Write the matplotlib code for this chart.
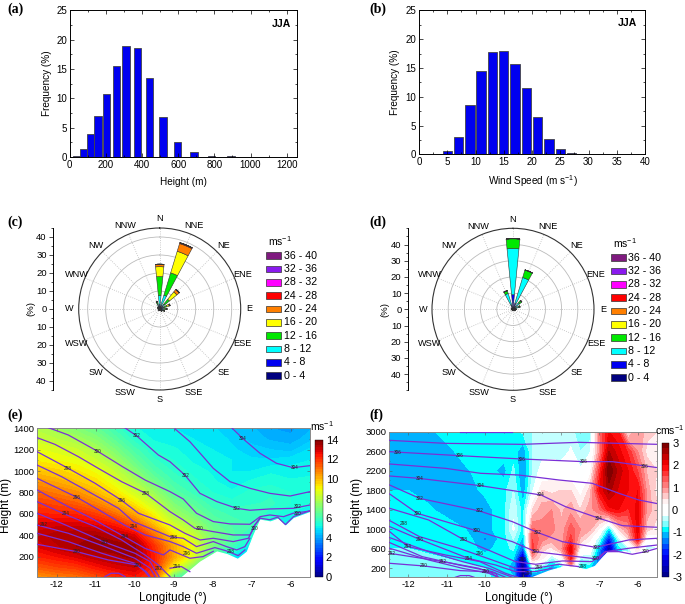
import numpy as np
import matplotlib
matplotlib.use("Agg")
import matplotlib.pyplot as plt
from matplotlib.colors import LinearSegmentedColormap
from matplotlib.patches import Rectangle
from matplotlib.ticker import MultipleLocator

plt.rcParams['font.family'] = ['Liberation Sans', 'DejaVu Sans']
plt.rcParams['mathtext.default'] = 'regular'
plt.rcParams['axes.unicode_minus'] = False
plt.rcParams['axes.linewidth'] = 0.7

W, H = 685, 604

# (a) height histogram
a_x = [39, 76, 116, 157, 203, 258, 312, 374, 442, 516, 597, 688, 785, 892, 1045]
a_y = [0.1, 1.4, 4.0, 7.0, 10.7, 15.5, 19.0, 18.5, 13.4, 6.8, 2.5, 0.8, 0.25, 0.1, 0.05]
# (b) wind speed histogram
b_x = [3, 5, 7, 9, 11, 13, 15, 17, 19, 21, 23, 25, 27, 29, 31, 33]
b_y = [0.05, 0.6, 3.0, 8.6, 14.5, 17.7, 18.0, 15.7, 11.5, 6.4, 2.7, 0.9, 0.3, 0.1, 0.03, 0.02]

# wind roses, share per speed class, 16 directions clockwise from N
directions = ["N", "NNE", "NE", "ENE", "E", "ESE", "SE", "SSE", "S", "SSW", "SW", "WSW", "W", "WNW", "NW", "NNW"]
speed_names = ["0 - 4", "4 - 8", "8 - 12", "12 - 16", "16 - 20", "20 - 24", "24 - 28", "28 - 32", "32 - 36", "36 - 40"]
speed_colors = ["#00007f", "#0000f0", "#00ffff", "#00e800", "#ffff00", "#ff7f00", "#ff0000", "#ff00ff", "#8a1aee", "#7f1a7f"]
c_0_4 = [1.5, 1.3, 1.3, 1.3, 1.3, 1.2, 1.0, 0.9, 0.8, 0.8, 0.8, 0.8, 0.8, 0.9, 1.0, 1.2]
c_4_8 = [1.0, 0.7, 0.7, 0.5, 0.4, 0.4, 0.3, 0.1, 0, 0, 0, 0, 0, 0.1, 0.2, 0.5]
c_8_12 = [5.0, 6.0, 1.5, 0.8, 0.7, 0.5, 0.2, 0, 0, 0, 0, 0, 0, 0, 0.2, 1.3]
c_12_16 = [10.5, 13.0, 3.5, 1.5, 1.0, 0.5, 0.1, 0, 0, 0, 0, 0, 0, 0, 0, 1.0]
c_16_20 = [5.5, 12.5, 5.3, 1.4, 0.5, 0.2, 0, 0, 0, 0, 0, 0, 0, 0, 0, 0.3]
c_20_24 = [1.3, 4.5, 1.7, 0.5, 0.1, 0, 0, 0, 0, 0, 0, 0, 0, 0, 0, 0]
c_24_28 = [0.1, 0.5, 0.2, 0, 0, 0, 0, 0, 0, 0, 0, 0, 0, 0, 0, 0]
d_0_4 = [2.0, 1.5, 1.2, 1.2, 1.2, 1.0, 0.8, 0.7, 0.7, 0.7, 0.7, 0.7, 0.7, 0.8, 0.8, 1.2]
d_4_8 = [7.0, 2.5, 1.0, 0.8, 0.3, 0.2, 0.1, 0, 0, 0, 0, 0, 0, 0, 0.1, 1.5]
d_8_12 = [28.5, 16.5, 3.0, 1.5, 0.4, 0.2, 0, 0, 0, 0, 0, 0, 0, 0, 0.1, 7.5]
d_12_16 = [6.0, 4.8, 1.8, 1.0, 0.1, 0, 0, 0, 0, 0, 0, 0, 0, 0, 0, 1.8]
d_16_20 = [0.1, 0.1, 0.1, 0, 0, 0, 0, 0, 0, 0, 0, 0, 0, 0, 0, 0]

# terrain along the section, same for (e) and (f)
ground_lon = [-8.79, -8.32, -7.89, -7.63, -7.36, -7.12, -6.95, -6.78, -6.52, -6.33, -6.13, -5.92, -5.5]
ground_h = [10, 153, 247, 222, 178, 247, 403, 544, 528, 553, 488, 560, 616]

# (e) wind speed, one row per longitude
e_lon = [-12.5, -12, -11.5, -11, -10.5, -10, -9.5, -9, -8.5, -8, -7.5, -7, -6.5, -6, -5.5]
e_h = [1400, 1300, 1200, 1100, 1000, 900, 800, 700, 600, 500, 400, 300, 200, 100, 10]
e_speed = np.array([
    [7.9, 8.3, 8.8, 9.2, 9.8, 10.5, 11.2, 11.8, 12.3, 12.8, 13.1, 12.8, 12.2, 11.4, 10.5],
    [7.5, 8.0, 8.6, 9.0, 9.6, 10.2, 10.9, 11.6, 12.2, 12.9, 13.4, 13.2, 12.5, 11.7, 10.8],
    [7.1, 7.7, 8.3, 8.8, 9.3, 9.8, 10.6, 11.3, 12.2, 12.9, 13.5, 13.5, 12.8, 11.9, 11.0],
    [6.6, 7.2, 7.8, 8.3, 8.9, 9.4, 10.0, 10.8, 11.8, 12.7, 13.5, 13.7, 13.2, 12.4, 11.5],
    [5.9, 6.4, 7.0, 7.6, 8.2, 8.7, 9.3, 10.1, 11.1, 12.3, 13.2, 13.7, 13.4, 12.8, 12.0],
    [5.3, 5.6, 6.1, 6.6, 7.2, 7.8, 8.4, 9.2, 10.2, 11.4, 12.8, 13.6, 13.6, 13.0, 12.4],
    [5.0, 5.2, 5.5, 5.8, 6.2, 6.8, 7.5, 8.2, 9.0, 9.9, 11.1, 12.0, 12.3, 12.2, 11.7],
    [5.0, 5.1, 5.3, 5.5, 5.7, 6.0, 6.4, 7.0, 7.6, 8.4, 9.3, 10.2, 10.3, 9.0, 6.5],
    [4.9, 5.0, 5.1, 5.2, 5.4, 5.6, 5.9, 6.4, 6.9, 7.6, 8.3, 8.8, 8.6, 7.0, 5.5],
    [4.8, 4.9, 5.0, 5.1, 5.2, 5.3, 5.5, 5.8, 6.2, 6.6, 7.0, 7.0, 6.0, 5.0, 5.0],
    [4.5, 4.7, 4.8, 5.0, 5.0, 5.1, 5.3, 5.6, 5.9, 6.2, 6.4, 6.0, 5.0, 4.8, 4.8],
    [4.3, 4.4, 4.6, 4.8, 5.0, 5.3, 5.6, 5.7, 6.0, 6.0, 5.5, 4.8, 4.8, 4.8, 4.8],
    [4.0, 4.2, 4.5, 4.8, 5.2, 5.4, 5.7, 5.8, 5.6, 5.2, 5.0, 5.0, 5.0, 5.0, 5.0],
    [3.9, 4.1, 4.4, 4.9, 5.1, 5.3, 5.5, 5.5, 5.2, 5.0, 5.0, 5.0, 5.0, 5.0, 5.0],
    [4.2, 4.4, 4.8, 5.0, 5.2, 5.3, 5.5, 5.3, 5.0, 5.0, 5.0, 5.0, 5.0, 5.0, 5.0],
]).T

# (e) potential temperature lines
e1_lon = [-7.51, -7.21, -6.78, -6.36, -5.93, -5.5]
e1_h = [1406, 1300, 1166, 1073, 1032, 1051]
e2_lon = [-8.96, -8.58, -8.24, -7.98, -7.55, -7.04, -6.53, -6.01, -5.5]
e2_h = [1394, 1275, 1135, 1026, 901, 839, 792, 767, 808]
e3_lon = [-10.24, -9.94, -9.39, -9.09, -8.71, -8.32, -7.89, -7.38, -7.04, -6.53, -5.93, -5.5]
e3_h = [1403, 1328, 1151, 1088, 964, 792, 715, 652, 634, 646, 652, 683]
e4_lon = [-12.21, -11.7, -10.93, -10.31, -9.73, -9.09, -8.75, -8.41, -7.98, -7.55, -7.04, -6.78, -6.53, -6.18, -5.93, -5.5]
e4_h = [1406, 1338, 1182, 1042, 917, 808, 739, 606, 528, 506, 503, 574, 590, 574, 606, 627]
e5_lon = [-12.5, -12.04, -11.44, -10.93, -10.33, -9.71, -9.09, -8.75, -8.45, -7.98, -7.47, -7.04, -6.91, -6.78]
e5_h = [1313, 1250, 1135, 1026, 901, 792, 621, 543, 465, 434, 403, 403, 496, 559]
e6_lon = [-12.5, -11.7, -11.01, -10.31, -9.9, -9.09, -8.71, -8.32, -7.98, -7.47, -7.08, -6.95]
e6_h = [1182, 1026, 886, 721, 606, 496, 419, 356, 372, 341, 372, 465]
e7_lon = [-12.5, -11.87, -11.1, -10.41, -10.03, -9.09, -8.75, -8.41, -7.98, -7.64, -7.38, -7.17, -7.04]
e7_h = [1057, 948, 792, 652, 528, 387, 372, 294, 341, 294, 263, 294, 372]
e8_lon = [-12.5, -11.46, -10.84, -10.26, -9.73, -9.09, -8.75, -8.41, -7.94, -7.64, -7.34, -7.17]
e8_h = [933, 752, 621, 496, 403, 341, 294, 232, 285, 254, 210, 263]
e9_lon = [-12.5, -11.78, -11.1, -10.26, -9.73, -9.26, -9.09, -8.58, -8.24, -7.98]
e9_h = [824, 683, 559, 387, 278, 216, 263, 185, 201, 250]
e10_lon = [-12.5, -11.78, -11.01, -10.33, -9.73, -9.39, -9.18, -9.09]
e10_h = [715, 596, 481, 356, 216, 123, 45, 14]
e11_lon = [-12.5, -11.87, -11.18, -10.76, -9.99, -9.6, -9.37]
e11_h = [606, 512, 403, 335, 232, 154, 14]
e12_lon = [-12.5, -11.7, -10.76, -9.99, -9.6, -9.47]
e12_h = [496, 419, 294, 185, 92, 14]
e13_lon = [-12.5, -11.7, -10.84, -9.99, -9.7, -9.6]
e13_h = [419, 341, 232, 138, 60, 14]
e14_lon = [-12.5, -11.48, -10.67, -9.94, -9.73, -9.63]
e14_h = [316, 247, 169, 123, 60, 14]
e15_lon = [-10.76, -10.6, -10.4, -10.24]
e15_h = [14, 45, 45, 14]
e16_lon = [-6.95, -6.78, -6.53, -6.33, -6.13, -5.92, -5.5]
e16_h = [480, 560, 545, 570, 500, 575, 630]
e17_lon = [-9.09, -8.8, -8.58]
e17_h = [92, 108, 60]
e_lines = [(e1_lon, e1_h), (e2_lon, e2_h), (e3_lon, e3_h), (e4_lon, e4_h), (e5_lon, e5_h), (e6_lon, e6_h),
           (e7_lon, e7_h), (e8_lon, e8_h), (e9_lon, e9_h), (e10_lon, e10_h), (e11_lon, e11_h), (e12_lon, e12_h),
           (e13_lon, e13_h), (e14_lon, e14_h), (e15_lon, e15_h), (e16_lon, e16_h), (e17_lon, e17_h)]
e_label_lon = [-9.94, -10.94, -11.7, -11.47, -11.77, -12.32, -11.49, -9.71, -10.33, -10.02, -10.25, -10.76, -9.93, -9.38,
               -8.68, -8.32, -9.0, -8.66, -8.92, -7.38, -5.88, -7.22, -5.81, -5.81, -6.93, -7.52]
e_label_h = [1331, 1184, 1028, 753, 600, 497, 244, 794, 725, 481, 388, 331, 122, 91,
             959, 466, 381, 225, 106, 647, 1034, 1300, 669, 600, 459, 247]
e_label_txt = ["302", "300", "298", "296", "294", "292", "290", "298", "296", "294", "294", "292", "290", "292",
               "302", "300", "298", "296", "294", "302", "304", "304", "302", "300", "300", "298"]

# (f) vertical velocity, one row per longitude
f_lon = [-12.5, -12, -11.5, -11, -10.5, -10, -9.5, -9.25, -9, -8.75, -8.5, -8.25, -8, -7.75, -7.5, -7.25, -7, -6.75, -6.5, -6.25, -6, -5.75, -5.5]
f_h = [3000, 2600, 2200, 1800, 1400, 1000, 800, 600, 400, 200, 15]
f_w = np.array([
    [-1.1, -1.1, -1.1, -1.0, -0.85, -0.85, -0.85, -0.75, -0.6, -0.6, -0.6],
    [-1.1, -1.1, -1.1, -1.0, -0.85, -0.85, -0.85, -0.75, -0.6, -0.6, -0.6],
    [-1.1, -1.1, -1.1, -1.1, -0.95, -0.85, -0.85, -0.8, -0.7, -0.6, -0.6],
    [-0.85, -1.1, -1.1, -1.1, -1.1, -0.85, -0.85, -0.85, -0.75, -0.6, -0.6],
    [-0.85, -0.85, -1.05, -1.1, -1.1, -1.0, -0.85, -0.85, -0.8, -0.7, -0.6],
    [-0.85, -0.85, -0.85, -0.95, -1.1, -1.1, -1.3, -1.1, -0.85, -0.75, -0.7],
    [-0.85, -0.85, -1.1, -0.85, -0.85, -0.85, -0.85, -0.85, -0.85, -0.85, -0.85],
    [-0.85, -0.85, -0.7, -0.5, -0.3, -0.2, -0.5, -0.7, -1.0, -1.2, -1.0],
    [-0.7, -1.2, -1.3, -1.2, -0.9, -0.9, -1.1, -1.6, -2.8, -3.0, -3.0],
    [-0.5, -0.5, -0.5, -0.3, 0.5, 1.3, 1.5, 1.6, 0.8, -0.5, -1.5],
    [-0.3, -0.4, -0.1, 0.5, 0.9, 1.1, 1.1, 0.6, 0.3, -0.8, -1.5],
    [-0.3, -0.5, 0.1, 0.4, 1.0, 1.1, 0.9, 0.4, -0.6, -1.2, -1.5],
    [-0.4, -0.5, 0.0, 0.5, 0.7, 0.8, 0.8, 0.9, 0.0, -1.0, -1.0],
    [-0.4, -0.2, 0.0, 0.5, 0.9, 1.4, 1.6, 2.2, 1.8, 0.8, 0.0],
    [-0.7, -0.5, -0.2, 0.1, 0.5, 1.0, 0.7, 0.2, -0.5, -1.0, -1.0],
    [-0.7, -0.3, 0.1, 0.6, 0.9, 0.8, 0.3, 0.0, -0.4, -1.0, -1.0],
    [1.2, 1.0, 1.6, 2.0, 1.2, 0.2, -0.5, -1.2, -1.5, -1.5, -1.5],
    [2.0, 2.5, 3.0, 2.6, 1.9, -1.0, -2.0, -2.8, -2.0, -2.0, -2.0],
    [1.8, 2.1, 2.4, 2.2, 2.0, 0.5, -0.5, -0.9, -1.0, -1.0, -1.0],
    [0.3, 1.7, 2.0, 2.0, 1.7, 1.0, 0.5, -0.5, -0.8, -0.8, -0.8],
    [1.0, 1.0, 1.5, 2.0, 2.1, 2.1, 2.0, 0.5, 0.2, 0.2, 0.2],
    [0.6, 0.4, 0.7, 0.9, 0.9, 0.6, 0.0, -0.5, -0.5, -0.5, -0.5],
    [0.5, 0.4, 0.5, 0.4, 0.6, 0.4, 0.1, -0.3, -0.3, -0.3, -0.3],
])

# (f) potential temperature lines
f1_lon = [-12.49, -11.03, -9.02, -7.54, -5.48]
f1_h = [2823, 2761, 2741, 2782, 2741]
f2_lon = [-12.49, -10.65, -9.02, -7.42, -6.66, -5.79, -5.48]
f2_h = [2590, 2508, 2440, 2386, 2386, 2297, 2263]
f3_lon = [-12.49, -11.03, -10.11, -9.11, -8.06, -7.19, -6.49, -5.97, -5.48]
f3_h = [2338, 2249, 2147, 2112, 2010, 1942, 1737, 1600, 1525]
f4_lon = [-12.49, -11.73, -10.12, -8.53, -7.89, -7.01, -6.4, -5.48]
f4_h = [2092, 2044, 1894, 1703, 1464, 1225, 1074, 1040]
f5_lon = [-12.49, -11.71, -10.14, -9.28, -8.63, -7.97, -7.1, -6.23, -5.48]
f5_h = [1907, 1634, 1375, 1156, 938, 746, 630, 781, 815]
f6_lon = [-12.49, -11.77, -10.2, -9.28, -8.67, -7.97, -7.06, -6.84, -6.23, -5.48]
f6_h = [1723, 1327, 965, 746, 541, 473, 391, 541, 610, 678]
f7_lon = [-12.49, -11.47, -10.54, -9.81, -9.2, -8.67, -7.97, -7.19, -6.84]
f7_h = [1429, 1190, 781, 541, 337, 282, 350, 337, 541]
f8_lon = [-12.49, -11.71, -10.68, -9.81, -9.2, -8.67, -8.06, -7.54]
f8_h = [1177, 849, 610, 371, 200, 200, 282, 234]
f9_lon = [-12.49, -11.71, -10.41, -9.72, -9.2, -8.67, -8.24]
f9_h = [1054, 794, 398, 268, 132, 132, 200]
f10_lon = [-12.49, -12.01, -11.03, -10.13, -9.46, -9.14]
f10_h = [951, 644, 473, 337, 98, 16]
f11_lon = [-12.49, -11.47, -10.59, -9.9, -9.28]
f11_h = [828, 541, 337, 200, 16]
f12_lon = [-12.49, -11.64, -10.68, -9.81, -9.46]
f12_h = [726, 439, 268, 132, 16]
f13_lon = [-12.49, -11.47, -10.59, -9.9, -9.63]
f13_h = [610, 371, 200, 98, 16]
f14_lon = [-12.49, -11.1, -10.16, -9.81, -9.68]
f14_h = [507, 337, 200, 98, 16]
f15_lon = [-12.49, -11.6, -10.64, -9.98, -9.72, -9.65]
f15_h = [302, 248, 152, 132, 98, 16]
f16_lon = [-10.77, -10.64, -10.41, -10.28]
f16_h = [16, 50, 50, 16]
f17_lon = [-10.65, -9.28]
f17_h = [2995, 2995]
f18_lon = [-7.01, -6.84, -6.49, -6.14, -5.79, -5.48]
f18_h = [391, 541, 541, 487, 541, 610]
f_lines = [(f1_lon, f1_h), (f2_lon, f2_h), (f3_lon, f3_h), (f4_lon, f4_h), (f5_lon, f5_h), (f6_lon, f6_h),
           (f7_lon, f7_h), (f8_lon, f8_h), (f9_lon, f9_h), (f10_lon, f10_h), (f11_lon, f11_h), (f12_lon, f12_h),
           (f13_lon, f13_h), (f14_lon, f14_h), (f15_lon, f15_h), (f16_lon, f16_h), (f17_lon, f17_h), (f18_lon, f18_h)]
f_label_lon = [-12.27, -10.65, -9.04, -7.42, -5.81, -11.71, -10.12, -8.53, -7.02, -11.71, -10.14, -8.62, -7.06, -11.77, -10.22,
               -8.67, -7.1, -5.79, -12.11, -10.54, -9.0, -7.43, -8.59, -11.71, -10.13, -12.01, -10.41, -8.86, -12.45, -11.1, -11.6, -9.98]
f_label_h = [2577, 2508, 2440, 2386, 2290, 2044, 1894, 1703, 1225, 1634, 1375, 938, 630, 1327, 965,
             541, 391, 541, 1108, 781, 371, 234, 214, 794, 494, 644, 398, 98, 507, 337, 248, 132]
f_label_txt = ["306", "306", "306", "306", "306", "304", "304", "304", "304", "302", "302", "302", "302", "300", "300",
               "300", "300", "300", "298", "298", "298", "298", "298", "296", "296", "294", "294", "294", "292", "292", "290", "290"]

fig = plt.figure(figsize=(W / 100, H / 100), dpi=100)


def px_axes(x0, y0, x1, y1, **kw):
    return fig.add_axes([x0 / W, 1 - y1 / H, (x1 - x0) / W, (y1 - y0) / H], **kw)


def px_text(x, y, s, **kw):
    kw.setdefault('ha', 'center')
    kw.setdefault('va', 'center')
    fig.text(x / W, 1 - y / H, s, **kw)


def panel_letter(x, y, s):
    px_text(x, y, s, ha='left', family=['Liberation Serif'], weight='bold', fontsize=10)


def histogram(box, x, y, width, xlim, xmaj, xmin, xlabel, xlabel_pos, ylabel_x, jja_pos):
    ax = px_axes(*box)
    ax.bar(x, y, width=width, color='#0000f0', edgecolor='#444444', linewidth=0.6)
    ax.set_xlim(*xlim)
    ax.set_ylim(0, 25)
    ax.xaxis.set_major_locator(MultipleLocator(xmaj))
    ax.xaxis.set_minor_locator(MultipleLocator(xmin))
    ax.yaxis.set_major_locator(MultipleLocator(5))
    ax.yaxis.set_minor_locator(MultipleLocator(2.5))
    ax.tick_params(which='both', direction='in', top=True, right=True, labelsize=7, pad=2, width=0.5)
    ax.tick_params(which='major', length=3)
    ax.tick_params(which='minor', length=1.5)
    px_text(*xlabel_pos, xlabel, fontsize=7.2)
    px_text(ylabel_x, (box[1] + box[3]) / 2, "Frequency (%)", fontsize=7.2, rotation=90)
    px_text(*jja_pos, "JJA", fontsize=7.5, weight='bold')


histogram((69.7, 10.3, 297, 157), a_x, a_y, 42, (0, 1257), 200, 100, "Height (m)", (183.7, 182), 47, (281.7, 23.7))
histogram((419, 10.3, 645, 154.3), b_x, b_y, 1.65, (0, 40), 5, 2.5, "Wind Speed (m s$^{-1}$)", (533, 180.7), 395, (627, 23))


def wind_rose(cx, cy, rmax, stack, axis_x, label_x, legend_x, legend_y):
    r_px = 81
    ax = px_axes(cx - r_px, cy - r_px, cx + r_px, cy + r_px, projection='polar')
    ax.set_theta_zero_location('N')
    ax.set_theta_direction(-1)
    ax.set_rlim(0, rmax)
    theta = np.deg2rad(np.arange(16) * 22.5)
    bottom = np.zeros(16)
    for vals, col in zip(stack, speed_colors):
        ax.bar(theta, vals, width=np.deg2rad(11.25), bottom=bottom, color=col, edgecolor='#333333', linewidth=0.4, zorder=3)
        bottom = bottom + np.array(vals)
    ax.set_xticks(theta)
    ax.set_xticklabels([])
    ax.set_yticks([10, 20, 30, 40])
    ax.set_yticklabels([])
    ax.grid(True, axis='y', color='#bbbbbb', linewidth=0.6, linestyle='-')
    ax.grid(True, axis='x', color='#bbbbbb', linewidth=0.6, linestyle=':')
    ax.tick_params(axis='x', length=2, width=0.5, direction='out')
    ax.spines['polar'].set_linewidth(0.8)
    ax.spines['polar'].set_color('#333333')
    for t, name in zip(theta, directions):
        ax.text(t, rmax * 90 / r_px, name, ha='center', va='center', fontsize=6.6, clip_on=False)
    # separate radial scale on the left
    side = px_axes(axis_x, cy - r_px, axis_x + 5, cy + r_px)
    side.set_ylim(-rmax, rmax)
    for s in ['top', 'right', 'bottom']:
        side.spines[s].set_visible(False)
    side.patch.set_alpha(0)
    side.set_xticks([])
    side.set_yticks([-40, -30, -20, -10, 0, 10, 20, 30, 40])
    side.set_yticklabels(['40', '30', '20', '10', '0', '10', '20', '30', '40'])
    side.yaxis.set_minor_locator(MultipleLocator(5))
    side.tick_params(which='major', length=3, width=0.5, labelsize=6.8, pad=1.5)
    side.tick_params(which='minor', length=1.5, width=0.5)
    px_text(label_x, cy, "(%)", rotation=90, fontsize=6.8)
    # legend swatches, top class first
    for i in range(10):
        y = legend_y + i * 13.33
        fig.add_artist(Rectangle((legend_x / W, 1 - (y + 3.4) / H), 15 / W, 6.8 / H, transform=fig.transFigure,
                                 facecolor=speed_colors[9 - i], edgecolor='#333333', linewidth=0.5))
        px_text(legend_x + 17.5, y, speed_names[9 - i], ha='left', fontsize=7.7)
    px_text(legend_x + 2, legend_y - 15, "ms$^{-1}$", ha='left', fontsize=7.5)


zeros = [0] * 16
wind_rose(159.7, 309, 45, [c_0_4, c_4_8, c_8_12, c_12_16, c_16_20, c_20_24, c_24_28, zeros, zeros, zeros], 53, 30.7, 266, 255.7)
wind_rose(513, 309.3, 50, [d_0_4, d_4_8, d_8_12, d_12_16, d_16_20, zeros, zeros, zeros, zeros, zeros], 407.7, 385, 610.7, 257.7)


def section(box, cbox, x, y, z, levels, cmap, ylim, ymaj, ymin, lines, labels, cbar_ticks, unit, unit_pos, ylabel_x, xlabel_x):
    ax = px_axes(*box)
    cf = ax.contourf(x, y, z, levels=levels, cmap=cmap)
    ax.fill_between(ground_lon, 0, ground_h, color='white', zorder=2)
    for lon, h in lines:
        ax.plot(lon, h, color='#7a2fd6', linewidth=0.9, zorder=3)
    for lx, ly, s in zip(*labels):
        ax.text(lx, ly, s, fontsize=3.4, ha='center', va='center', color='#222222', zorder=4)
    ax.set_xlim(-12.5, -5.5)
    ax.set_ylim(*ylim)
    ax.xaxis.set_major_locator(MultipleLocator(1))
    ax.xaxis.set_minor_locator(MultipleLocator(0.5))
    ax.set_yticks(np.arange(ymaj[0], ymaj[1] + 1, ymaj[2]))
    ax.yaxis.set_minor_locator(MultipleLocator(ymin))
    ax.tick_params(which='both', direction='in', top=True, right=True, labelsize=6.8, pad=2, width=0.4, color='#555555')
    ax.tick_params(which='major', length=2)
    ax.tick_params(which='minor', length=1)
    for s in ax.spines.values():
        s.set_color('#888888')
    cax = px_axes(*cbox)
    cb = fig.colorbar(cf, cax=cax, ticks=cbar_ticks)
    cb.ax.tick_params(labelsize=8, length=0, pad=2)
    cb.outline.set_linewidth(0.3)
    px_text(*unit_pos, unit, fontsize=7.5)
    px_text(xlabel_x, 598, "Longitude (°)", fontsize=8.5)
    px_text(ylabel_x, 505, "Height (m)", fontsize=8.5, rotation=90)


section((37, 428.3, 310, 577), (315, 439.7, 323, 577), e_lon, e_h, e_speed, np.arange(0, 14.01, 0.25), 'jet',
        (10, 1400), (200, 1400, 200), 100, e_lines, (e_label_lon, e_label_h, e_label_txt),
        [0, 2, 4, 6, 8, 10, 12, 14], "ms$^{-1}$", (321.7, 426), 6, 172.7)

updown = LinearSegmentedColormap.from_list("updown", [
    (0.0, "#00007f"), (1 / 6, "#0000ff"), (0.3125, "#00b0ff"), (0.354, "#00ffff"), (0.396, "#80ffff"), (0.479, "#ffffff"),
    (0.55, "#ffffff"), (0.667, "#ff8f8f"), (0.833, "#ff0000"), (1.0, "#6f0000")])
section((389.3, 431.7, 656.7, 577.3), (661.7, 442.7, 669.3, 577.3), f_lon, f_h, f_w.T, np.arange(-3, 3.01, 0.25), updown,
        (15, 3000), (200, 3000, 400), 200, f_lines, (f_label_lon, f_label_h, f_label_txt),
        [-3, -2, -1, 0, 1, 2, 3], "cms$^{-1}$", (670, 430), 356.7, 519)

panel_letter(7, 9, "(a)")
panel_letter(369, 9, "(b)")
panel_letter(7, 222.7, "(c)")
panel_letter(369, 222, "(d)")
panel_letter(7, 415, "(e)")
panel_letter(369, 415, "(f)")

fig.savefig("out.png", dpi=100)
